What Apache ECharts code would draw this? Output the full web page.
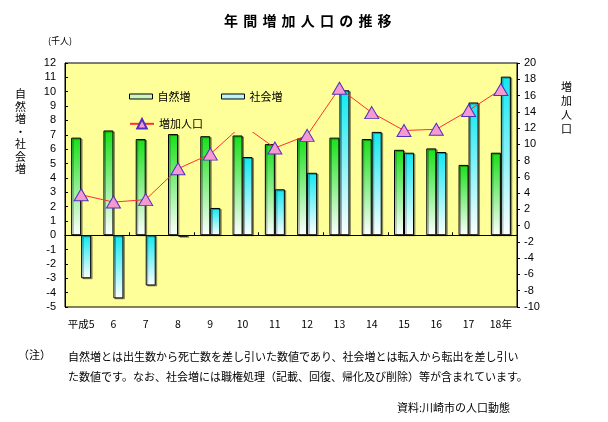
<!DOCTYPE html>
<html><head><meta charset="utf-8">
<script src="https://cdn.jsdelivr.net/npm/echarts@6/dist/echarts.min.js"></script>
<style>html,body{margin:0;padding:0;background:#fff}#c{width:608px;height:422px}</style>
</head><body><div id="c"></div>
<script>
const categories = ['平成5','6','7','8','9','10','11','12','13','14','15','16','17','18年'];
const naturalIncrease = [6.8,7.3,6.7,7.05,6.9,6.95,6.35,6.75,6.8,6.7,5.95,6.05,4.9,5.75];
const socialIncrease = [-3.0,-4.4,-3.5,-0.1,1.9,5.45,3.2,4.35,10.1,7.2,5.75,5.8,9.25,11.05];
const totalIncrease = [3.8,2.9,3.2,7.0,8.8,12.4,9.55,11.1,16.9,13.9,11.7,11.85,14.15,16.75];
const seriesNames = ['自然増','社会増','増加人口'];
const titleText = '年間増加人口の推移';
const noteLines = ['自然増とは出生数から死亡数を差し引いた数値であり、社会増とは転入から転出を差し引い','た数値です。なお、社会増には職権処理（記載、回復、帰化及び削除）等が含まれています。'];

const JP = '"Noto Sans CJK JP", sans-serif';
const LAT = '"Liberation Sans", Arial, sans-serif';
const grad = (c) => new echarts.graphic.LinearGradient(0,0,0,1,[{offset:0,color:c},{offset:1,color:'#ffffff'}]);

const chart = echarts.init(document.getElementById('c'), null, {renderer:'canvas'});
const graphics = [];
[...titleText].forEach((ch,i)=>graphics.push({type:'text',left:224+i*19.2,top:14,style:{text:ch,font:'bold 14px '+JP,fill:'#000'}}));
graphics.push({type:'text',left:48,top:36,style:{text:'(千人)',font:'9px '+JP,fill:'#000'}});
graphics.push({type:'text',left:15,top:88,style:{text:'自\n然\n増\n・\n社\n会\n増',font:'11px '+JP,lineHeight:12.5,fill:'#000'}});
graphics.push({type:'text',left:561,top:80,style:{text:'増\n加\n人\n口',font:'11px '+JP,lineHeight:14,fill:'#000'}});
graphics.push({type:'text',left:18,top:349,style:{text:'（注）',font:'11px '+JP,fill:'#000'}});
graphics.push({type:'text',left:68,top:351,style:{text:noteLines[0],font:'11px '+JP,fill:'#000'}});
graphics.push({type:'text',left:68,top:371,style:{text:noteLines[1],font:'11px '+JP,fill:'#000'}});
graphics.push({type:'text',right:98,top:402,style:{text:'資料:川崎市の人口動態',font:'11px '+JP,fill:'#000'}});
graphics.push({type:'rect',z:4,shape:{x:118,y:80,width:165,height:52},style:{fill:'#ffff99'}});

const legendBase = {orient:'horizontal',itemGap:0,textStyle:{fontFamily:JP,fontSize:11,color:'#000'},z:5,selectedMode:false};
chart.setOption({
  animation:false,
  backgroundColor:'#fff',
  grid:{left:65,right:91,top:63,bottom:115,show:true,backgroundColor:'#ffff99',borderColor:'#000',borderWidth:1},
  graphic:graphics,
  legend:[
    Object.assign({},legendBase,{data:[{name:seriesNames[0],icon:'rect',itemStyle:{color:'#c8f8c0',borderColor:'#000',borderWidth:1,shadowBlur:0,shadowOffsetX:0,shadowOffsetY:0}}],left:124,top:86,itemWidth:23,itemHeight:5}),
    Object.assign({},legendBase,{data:[{name:seriesNames[1],icon:'rect',itemStyle:{color:'#b8f4f8',borderColor:'#000',borderWidth:1,shadowBlur:0,shadowOffsetX:0,shadowOffsetY:0}}],left:216,top:86,itemWidth:23,itemHeight:5}),
    Object.assign({},legendBase,{data:[seriesNames[2]],left:124,top:113,itemWidth:24,itemHeight:12})
  ],
  xAxis:[
    {type:'category',data:categories,axisLine:{onZero:true,onZeroAxisIndex:0,lineStyle:{color:'#000',width:1}},
     axisTick:{show:true,inside:true,length:3,lineStyle:{color:'#000'}},axisLabel:{show:false},splitLine:{show:false}},
    {type:'category',data:categories,position:'bottom',axisLine:{show:false,onZero:false},axisTick:{show:false},
     axisLabel:{interval:0,margin:12,fontSize:10.5,fontFamily:JP,color:'#000'},splitLine:{show:false}}
  ],
  yAxis:[
    {type:'value',min:-5,max:12,interval:1,position:'left',axisLine:{show:true,lineStyle:{color:'#000'}},
     axisTick:{show:true,inside:true,length:3,lineStyle:{color:'#000'}},splitLine:{show:false},
     axisLabel:{margin:9,fontSize:11,fontFamily:LAT,color:'#000'}},
    {type:'value',min:-10,max:20,interval:2,position:'right',axisLine:{show:true,lineStyle:{color:'#000'}},
     axisTick:{show:true,inside:false,length:3,lineStyle:{color:'#000'}},splitLine:{show:false},
     axisLabel:{margin:7,fontSize:11,fontFamily:LAT,color:'#000'}}
  ],
  series:[
    {name:seriesNames[0],type:'bar',data:naturalIncrease,barWidth:10,barGap:'0%',xAxisIndex:0,yAxisIndex:0,
     itemStyle:{color:grad('#18e018'),borderColor:'#000',borderWidth:1,shadowColor:'rgba(0,0,0,0.35)',shadowOffsetX:1.5,shadowOffsetY:1,shadowBlur:0}},
    {name:seriesNames[1],type:'bar',data:socialIncrease,barWidth:10,barGap:'0%',xAxisIndex:0,yAxisIndex:0,
     itemStyle:{color:grad('#10e8f0'),borderColor:'#000',borderWidth:1,shadowColor:'rgba(0,0,0,0.35)',shadowOffsetX:1.5,shadowOffsetY:1,shadowBlur:0}},
    {name:seriesNames[2],type:'line',data:totalIncrease,xAxisIndex:0,yAxisIndex:1,z:3,
     symbol:'triangle',symbolSize:[14,12],lineStyle:{color:'#ff3030',width:1},
     itemStyle:{color:'#f49ad0',borderColor:'#5030c0',borderWidth:1}}
  ]
});
</script></body></html>
